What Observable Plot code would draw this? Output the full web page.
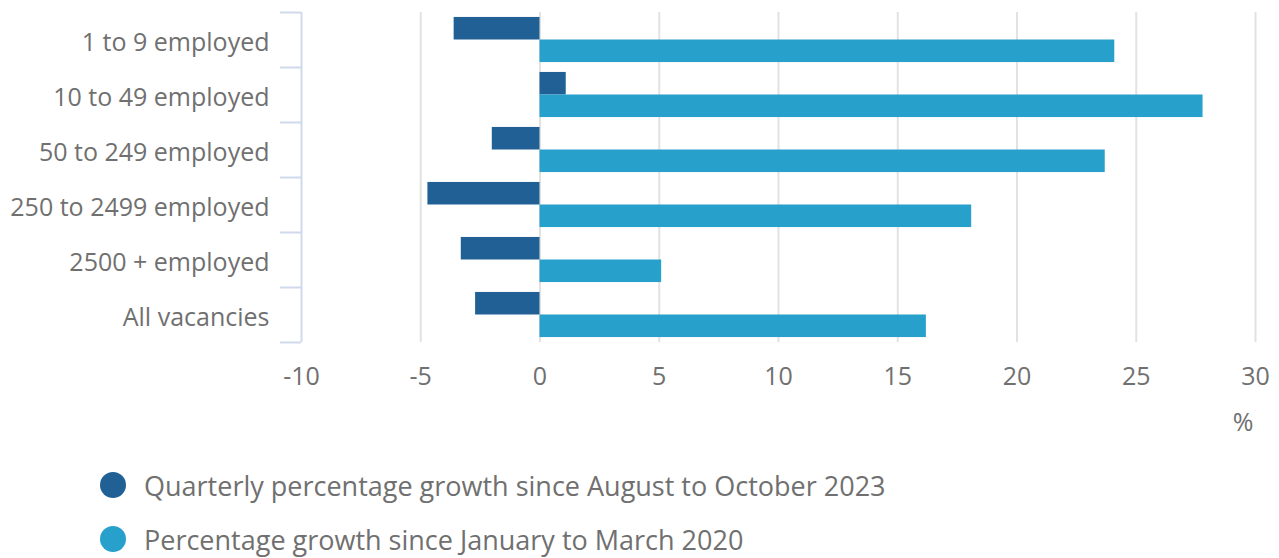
<!DOCTYPE html>
<html>
<head>
<meta charset="utf-8">
<script src="https://cdn.jsdelivr.net/npm/d3@7"></script>
<script src="https://cdn.jsdelivr.net/npm/@observablehq/plot@0.6"></script>
<style>
  body { margin: 0; background: #fff; font-family: "Open Sans", sans-serif; }
  #legend { margin-top: 18px; padding-left: 100px; color: #707070; font-size: 27px; }
  .row { display: flex; align-items: center; height: 54px; }
  .sw { width: 26px; height: 26px; border-radius: 50%; margin-right: 18px; flex: none; }
</style>
</head>
<body>
<div id="chart"></div>
<div id="legend"></div>
<script>
const categories = ["1 to 9 employed", "10 to 49 employed", "50 to 249 employed", "250 to 2499 employed", "2500 + employed", "All vacancies"];
const quarterly = [-3.6, 1.1, -2.0, -4.7, -3.3, -2.7];
const since2020 = [24.1, 27.8, 23.7, 18.1, 5.1, 16.2];
const seriesNames = ["Quarterly percentage growth since August to October 2023", "Percentage growth since January to March 2020"];
const seriesColors = ["#206095", "#27a0cc"];
const xTicks = [-10, -5, 0, 5, 10, 15, 20, 25, 30];
const unitLabel = ["%"];

const half = 0.41;
const rows = [];
categories.forEach((c, i) => {
  rows.push({cat: c, series: seriesNames[0], value: quarterly[i], y1: i - half, y2: i});
  rows.push({cat: c, series: seriesNames[1], value: since2020[i], y1: i, y2: i + half});
});

const chart = Plot.plot({
  width: 1279,
  height: 440,
  marginLeft: 301,
  marginRight: 24,
  marginTop: 12,
  marginBottom: 98,
  style: {fontFamily: "Open Sans", background: "#fff"},
  x: {domain: [-10, 30]},
  y: {domain: [-0.5, categories.length - 0.5], reverse: true},
  color: {domain: seriesNames, range: seriesColors},
  marks: [
    Plot.gridX(xTicks.slice(1), {stroke: "#e2e2e2", strokeOpacity: 1, strokeWidth: 2}),
    Plot.ruleX([-10], {stroke: "#cfd9ec", strokeWidth: 2}),
    Plot.axisY(d3.range(-0.5, categories.length, 1), {tickSize: 21, tickFormat: () => "", stroke: "#cfd9ec", strokeWidth: 2, label: null}),
    Plot.axisY(d3.range(categories.length), {tickSize: 0, tickPadding: 32, tickFormat: i => categories[i], fontSize: 25, fill: "#707070", label: null, dy: 3}),
    Plot.axisX(xTicks, {tickSize: 0, tickPadding: 25, fontSize: 25, fill: "#707070", label: null, tickFormat: d => String(d)}),
    Plot.text(unitLabel, {frameAnchor: "bottom-right", dy: 88, textAnchor: "end", fontSize: 25, fill: "#707070", dx: -2}),
    Plot.rect(rows, {x1: 0, x2: "value", y1: "y1", y2: "y2", fill: "series"})
  ]
});
document.getElementById("chart").appendChild(chart);

const legend = document.getElementById("legend");
seriesNames.forEach((n, i) => {
  const r = document.createElement("div");
  r.className = "row";
  r.innerHTML = `<span class="sw" style="background:${seriesColors[i]}"></span><span>${n}</span>`;
  legend.appendChild(r);
});
</script>
</body>
</html>
